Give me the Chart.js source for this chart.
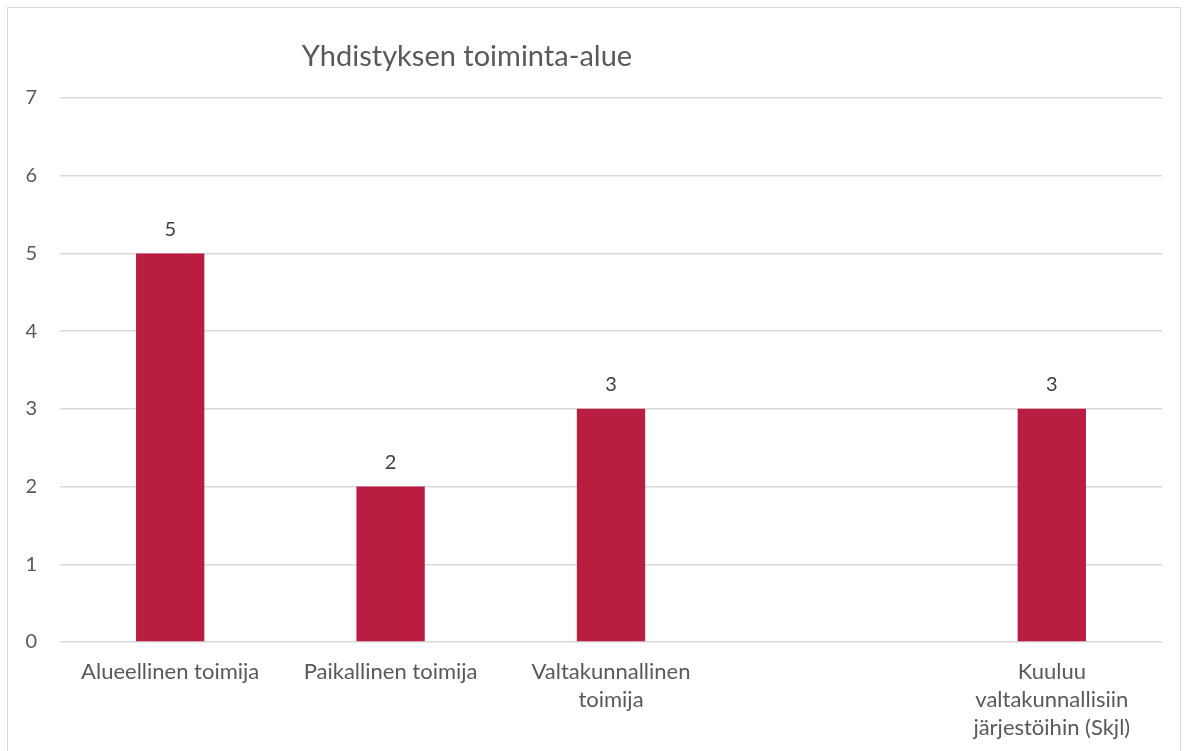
<!DOCTYPE html>
<html><head><meta charset="utf-8">
<script src="https://cdn.jsdelivr.net/npm/chart.js@4/dist/chart.umd.min.js"></script>
<style>
html,body{margin:0;padding:0;background:#fff;}
#wrap{position:absolute;left:0;top:0;width:1189px;height:751px;}
#frame{position:absolute;left:7px;top:7px;width:1174px;height:760px;border:1px solid #d9d9d9;box-sizing:border-box;}
canvas{position:absolute;left:0;top:0;}
</style></head>
<body>
<div id="wrap"><div id="frame"></div><canvas id="c" width="1189" height="751"></canvas></div>
<script>
const titleText = 'Yhdistyksen toiminta-alue';
const categories = [
  ['Alueellinen toimija'],
  ['Paikallinen toimija'],
  ['Valtakunnallinen', 'toimija'],
  '',
  ['Kuuluu', 'valtakunnallisiin', 'järjestöihin (Skjl)']
];
const values = [5, 2, 3, null, 3];
const yTicks = [0, 1, 2, 3, 4, 5, 6, 7];

const FONT = 'Lato, "Open Sans", sans-serif';

const titlePlugin = {
  id: 'customTitle',
  afterDraw(chart) {
    const ctx = chart.ctx;
    ctx.save();
    ctx.font = '29px ' + FONT;
    ctx.fillStyle = '#595959';
    ctx.textAlign = 'center';
    ctx.textBaseline = 'middle';
    ctx.fillText(titleText, 467, 57);
    ctx.restore();
  }
};
const valueLabels = {
  id: 'valueLabels',
  afterDatasetsDraw(chart) {
    const ctx = chart.ctx;
    const meta = chart.getDatasetMeta(0);
    ctx.save();
    ctx.font = '20px ' + FONT;
    ctx.fillStyle = '#404040';
    ctx.textAlign = 'center';
    ctx.textBaseline = 'middle';
    meta.data.forEach((el, i) => {
      const v = values[i];
      if (v === null || v === undefined) return;
      ctx.fillText(String(v), el.x, el.y - 24);
    });
    ctx.restore();
  }
};

new Chart(document.getElementById('c'), {
  type: 'bar',
  data: {
    labels: categories,
    datasets: [{
      data: values,
      backgroundColor: '#B91D42',
      categoryPercentage: 1,
      barPercentage: 0.31
    }]
  },
  options: {
    responsive: false,
    animation: false,
    layout: { padding: { left: 7, right: 27, top: 98, bottom: 0 } },
    plugins: { legend: { display: false }, tooltip: { enabled: false }, title: { display: false } },
    scales: {
      x: {
        grid: { display: false, drawTicks: false },
        border: { display: false },
        ticks: {
          color: '#595959',
          font: { family: FONT, size: 22, lineHeight: 1.28 },
          maxRotation: 0, minRotation: 0, autoSkip: false, padding: 16
        },
        afterFit(s) { s.height = 109; }
      },
      y: {
        min: 0, max: 7,
        afterBuildTicks(s) { s.ticks = yTicks.map(v => ({ value: v })); },
        grid: { color: '#d9d9d9', lineWidth: 1.5, drawTicks: false },
        border: { display: false },
        ticks: {
          color: '#595959',
          font: { family: FONT, size: 20 },
          padding: 23
        },
        afterFit(s) { s.width = 53; }
      }
    }
  },
  plugins: [titlePlugin, valueLabels]
});
</script>
</body></html>
